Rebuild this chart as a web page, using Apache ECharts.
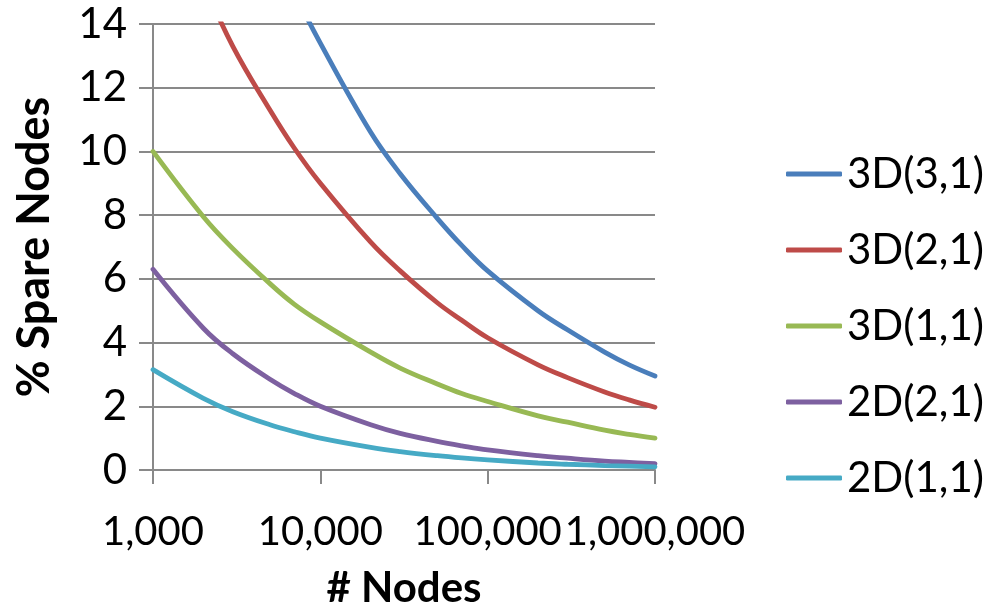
<!DOCTYPE html>
<html>
<head>
<meta charset="utf-8">
<script src="https://cdn.jsdelivr.net/npm/echarts@6/dist/echarts.min.js"></script>
<style>
html,body{margin:0;padding:0;background:#fff;}
#chart{width:994px;height:614px;}
</style>
</head>
<body>
<div id="chart"></div>
<script>
// Node counts (x positions where values were read)
const nodes = [1000, 2000, 3000, 5000, 7000, 10000, 20000, 30000, 50000, 70000, 100000, 200000, 300000, 500000, 700000, 1000000];
const seriesNames = ['3D(3,1)', '3D(2,1)', '3D(1,1)', '2D(2,1)', '2D(1,1)'];
// % spare nodes (null = off the top of the plot)
const s3D31 = [null, null, null, 16.8, 15.0, 13.4, 10.6, 9.3, 7.9, 7.05, 6.25, 5.0, 4.4, 3.7, 3.3, 2.95];
const s3D21 = [null, 15.3, 13.3, 11.3, 10.1, 9.0, 7.15, 6.25, 5.25, 4.7, 4.15, 3.3, 2.9, 2.45, 2.2, 1.97];
const s3D11 = [10.0, 7.95, 6.95, 5.85, 5.2, 4.65, 3.7, 3.2, 2.7, 2.4, 2.15, 1.7, 1.5, 1.25, 1.12, 1.0];
const s2D21 = [6.3, 4.45, 3.65, 2.85, 2.4, 2.0, 1.42, 1.15, 0.9, 0.76, 0.63, 0.45, 0.37, 0.28, 0.24, 0.2];
const s2D11 = [3.15, 2.25, 1.83, 1.42, 1.2, 1.0, 0.71, 0.58, 0.45, 0.38, 0.32, 0.22, 0.18, 0.14, 0.12, 0.1];
const yTicks = [0, 2, 4, 6, 8, 10, 12, 14];
const xTicks = [1000, 10000, 100000, 1000000];

const colors = ['#4A7EBB', '#BE4B48', '#98B954', '#7D60A0', '#46AAC5'];
const allValues = [s3D31, s3D21, s3D11, s2D21, s2D11];

const FONT = 'Lato';
const grey = '#898989';

const chart = echarts.init(document.getElementById('chart'), null, {renderer: 'canvas'});
chart.setOption({
  animation: false,
  backgroundColor: '#fff',
  textStyle: {fontFamily: FONT},
  grid: {left: 153, right: 339, top: 24, bottom: 136, containLabel: false},
  legend: {
    orient: 'vertical',
    left: 786,
    top: 153,
    padding: 0,
    itemWidth: 56,
    itemHeight: 5,
    itemGap: 34,
    icon: 'roundRect',
    data: seriesNames,
    textStyle: {fontFamily: FONT, fontSize: 42, color: '#000', lineHeight: 40}
  },
  xAxis: {
    type: 'log',
    logBase: 10,
    min: xTicks[0],
    max: xTicks[xTicks.length - 1],
    name: '# Nodes',
    nameLocation: 'middle',
    nameGap: 97,
    nameTextStyle: {fontFamily: FONT, fontSize: 42, fontWeight: 'bold', color: '#000'},
    axisLine: {show: true, lineStyle: {color: grey, width: 2}},
    axisTick: {show: true, inside: false, length: 14, lineStyle: {color: grey, width: 2}},
    minorTick: {show: false},
    splitLine: {show: false},
    axisLabel: {
      fontFamily: FONT, fontSize: 40, color: '#000', margin: 42,
      formatter: v => Math.round(v).toLocaleString('en-US')
    }
  },
  yAxis: {
    type: 'value',
    min: yTicks[0],
    max: yTicks[yTicks.length - 1],
    interval: 2,
    name: '% Spare Nodes',
    nameLocation: 'middle',
    nameGap: 96,
    nameTextStyle: {fontFamily: FONT, fontSize: 45, fontWeight: 'bold', color: '#000'},
    axisLine: {show: true, lineStyle: {color: grey, width: 2}},
    axisTick: {show: true, inside: false, length: 14, lineStyle: {color: grey, width: 2}},
    splitLine: {show: true, lineStyle: {color: grey, width: 2}},
    axisLabel: {fontFamily: FONT, fontSize: 42, color: '#000', margin: 26}
  },
  series: seriesNames.map((name, i) => ({
    name: name,
    type: 'line',
    smooth: 0.4,
    showSymbol: false,
    symbol: 'none',
    clip: true,
    color: colors[i],
    lineStyle: {width: 4.8, color: colors[i], cap: 'round'},
    data: nodes.map((n, k) => allValues[i][k] == null ? null : [n, allValues[i][k]]).filter(d => d !== null)
  }))
});
</script>
</body>
</html>
